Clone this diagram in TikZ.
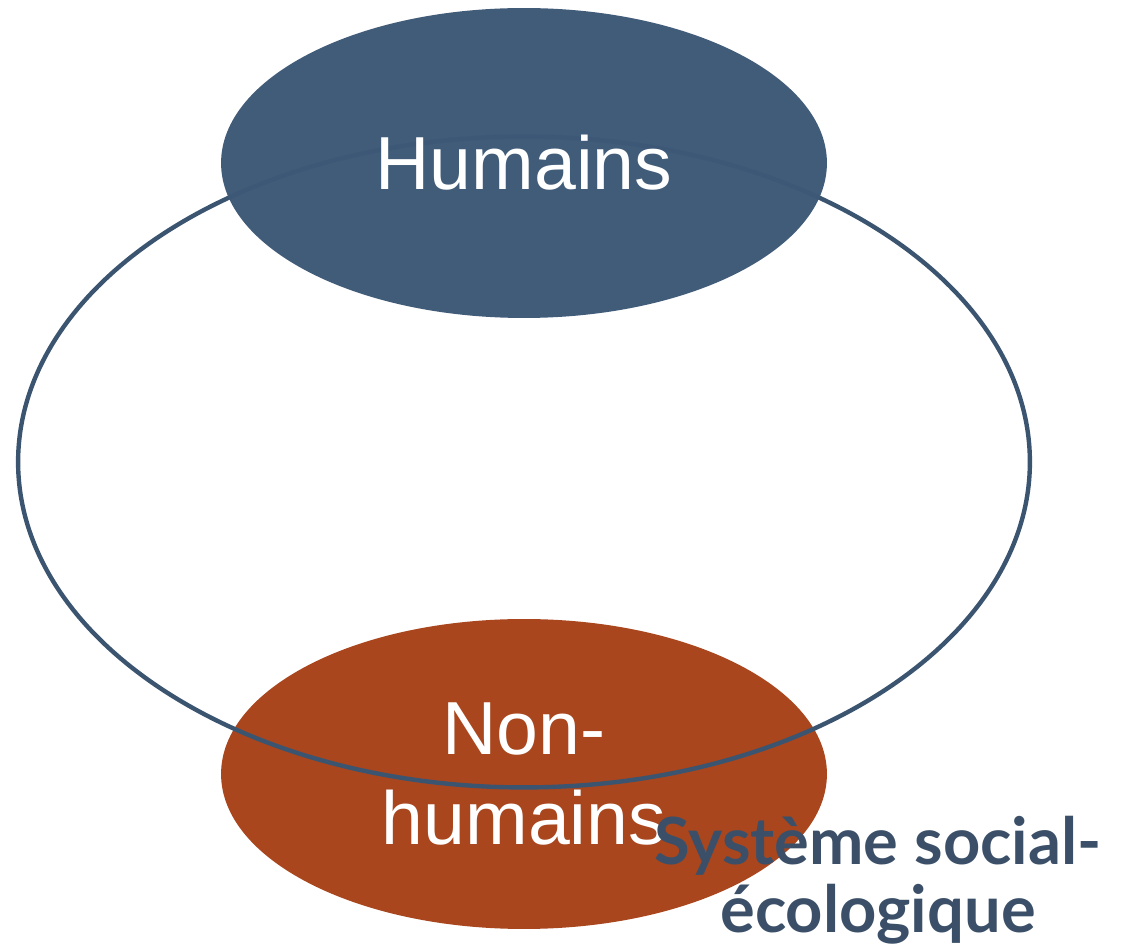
\documentclass[tikz,border=0pt]{standalone}
\usepackage{fontspec}
\setmainfont{Liberation Sans}
\newfontfamily\labelfont{Lato}
\usepackage{xcolor}
\usetikzlibrary{shapes.geometric, positioning, backgrounds}

\definecolor{humblue}{HTML}{3E5977}
\definecolor{ringblue}{HTML}{3B5571}
\definecolor{nonbrown}{HTML}{A9461D}
\definecolor{labelblue}{HTML}{3B5068}

\begin{document}
\begin{tikzpicture}[x=0.02cm, y=-0.02cm]
\tikzstyle{pole} = [ellipse, inner sep=0pt, minimum width=12.12cm, minimum height=6.2cm, text=white, align=center, font=\fontsize{42.8}{51}\selectfont]

\useasboundingbox (0,0) rectangle (1134,945);

\node (nonhumains) [pole, fill=nonbrown] at (524,774) {Non-\\humains};
\node (systeme) [ellipse, draw=ringblue, line width=2.5pt, inner sep=0pt, minimum width=20.24cm, minimum height=13.02cm] at (524,462) {};
\node (humains) [pole, fill=humblue, fill opacity=0.985, text opacity=1] at (524,163) {Humains};
\node (label) [align=center, text=labelblue, font=\labelfont\bfseries\fontsize{37}{38.5}\selectfont] at (878,880) {Système social-\\écologique};

\end{tikzpicture}
\end{document}
